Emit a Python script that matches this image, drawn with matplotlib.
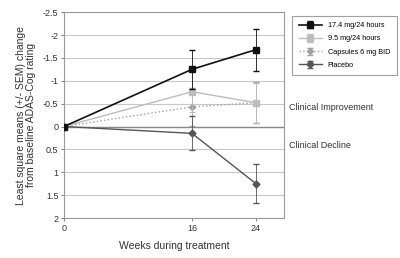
import matplotlib
matplotlib.use("Agg")
import matplotlib.pyplot as plt

weeks = [0, 16, 24]
s174 = [0, -1.25, -1.68]
e174 = [0, 0.42, 0.46]
s95 = [0, -0.76, -0.52]
e95 = [0, 0.45, 0.44]
scap = [0, -0.43, -0.52]
ecap = [0, 0.42, 0.45]
splac = [0, 0.15, 1.25]
eplac = [0, 0.37, 0.43]
labels = ["17.4 mg/24 hours", "9.5 mg/24 hours", "Capsules 6 mg BID", "Placebo"]
yticks = [-2.5, -2, -1.5, -1, -0.5, 0, 0.5, 1, 1.5, 2]
ytick_labels = ["-2.5", "-2", "-1.5", "-1", "-0.5", "0", "0.5", "1", "1.5", "2"]
xticks = [0, 16, 24]

plt.rcParams['font.family'] = ['Liberation Sans', 'DejaVu Sans']
fig = plt.figure(figsize=(4, 2.58), dpi=100)
ax = fig.add_axes([0.16, 0.155, 0.55, 0.798])

for y in yticks:
    ax.axhline(y, color='#c8c8c8' if y != 0 else '#888888', lw=0.8 if y != 0 else 1.0, zorder=0)

cap = 2
ax.errorbar(weeks, scap, yerr=ecap, color='#a0a0a0', ls=':', lw=1.0, marker='D', ms=3,
            capsize=cap, elinewidth=0.6, label=labels[2], zorder=2)
ax.errorbar(weeks, s95, yerr=e95, color='#bdbdbd', ls='-', lw=1.0, marker='s', ms=5,
            capsize=cap, elinewidth=0.6, label=labels[1], zorder=3)
ax.errorbar(weeks, splac, yerr=eplac, color='#555555', ls='-', lw=1.0, marker='D', ms=3.5,
            capsize=cap, elinewidth=0.6, label=labels[3], zorder=3)
ax.errorbar(weeks, s174, yerr=e174, color='#111111', ls='-', lw=1.2, marker='s', ms=5,
            capsize=cap, elinewidth=0.6, label=labels[0], zorder=4)

ax.set_xlim(0, 27.5)
ax.set_ylim(2, -2.5)
ax.set_yticks(yticks)
ax.set_yticklabels(ytick_labels)
ax.set_xticks(xticks)
ax.tick_params(labelsize=6.5, length=2, color='#888888', labelcolor='#333333', pad=2)
for s in ax.spines.values():
    s.set_color('#999999')
    s.set_linewidth(0.8)

ax.set_xlabel("Weeks during treatment", fontsize=7.5, color='#333333', labelpad=6)
ax.set_ylabel("Least square means (+/- SEM) change\nfrom baseline ADAS-Cog rating",
              fontsize=7.5, color='#333333', labelpad=5, linespacing=1.0)

h, l = ax.get_legend_handles_labels()
order = [l.index(x) for x in labels]
leg = fig.legend([h[i] for i in order], [l[i] for i in order], loc='upper left',
                 bbox_to_anchor=(0.722, 0.953), fontsize=5.2, frameon=True, fancybox=False,
                 edgecolor='#888888', handlelength=3.2, borderpad=0.9, labelspacing=0.85)
leg.get_frame().set_linewidth(0.8)

fig.text(0.722, (258 - 108) / 258, "Clinical Improvement", fontsize=6.5, color='#333333', va='center')
fig.text(0.722, (258 - 145) / 258, "Clinical Decline", fontsize=6.5, color='#333333', va='center')

fig.savefig("out.png", dpi=100)
